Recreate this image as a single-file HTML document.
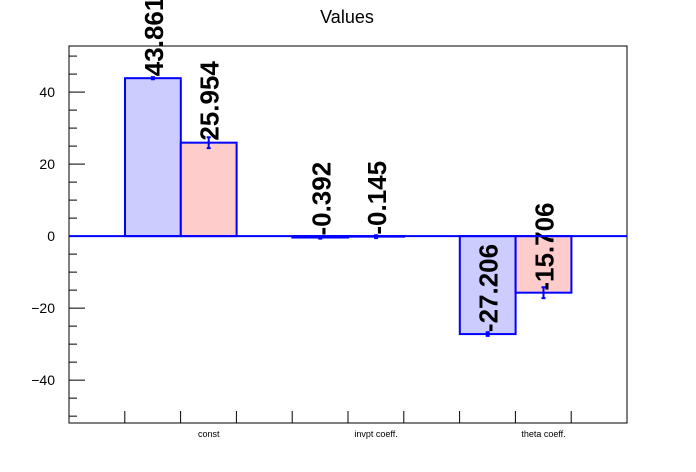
<!DOCTYPE html>
<html><head><meta charset="utf-8"><style>
html,body{margin:0;padding:0;background:#fff;}
svg{display:block;font-family:"Liberation Sans",sans-serif;}
</style></head><body>
<svg id="chart" width="696" height="472" viewBox="0 0 696 472" xmlns="http://www.w3.org/2000/svg">
<rect width="696" height="472" fill="#fff"/>
<text x="347" y="23" font-size="18" text-anchor="middle">Values</text>
<g id="plot"></g>
</svg>
<script>
const categories = ["const", "invpt coeff.", "theta coeff."];
const seriesA = [43.861, -0.392, -27.206];
const seriesB = [25.954, -0.145, -15.706];
const errA = [0.3, 0.3, 0.5];
const errB = [1.5, 0.4, 1.5];
const yTicks = [-40, -20, 0, 20, 40];
const labelsA = ["43.861", "-0.392", "-27.206"];
const labelsB = ["25.954", "-0.145", "-15.706"];

const X0 = 69, X1 = 627, Y0 = 46, Y1 = 423;
const yMin = -51.9, yMax = 52.8;
const NS = "http://www.w3.org/2000/svg";
const g = document.getElementById('plot');
function y(v){ return Y1 - (v - yMin) / (yMax - yMin) * (Y1 - Y0); }
const binW = 167.4, barW = 55.8, firstBar = 125;
function x(i, k){ return firstBar + i * binW + k * barW; }
function mk(tag, attrs, parent){
  const e = document.createElementNS(NS, tag);
  for (const k in attrs) e.setAttribute(k, attrs[k]);
  (parent || g).appendChild(e);
  return e;
}

const frame = mk('rect', {x:X0, y:Y0, width:X1-X0, height:Y1-Y0, fill:'none', stroke:'#000', 'stroke-width':1});



for (let v = -50; v <= 50; v += 5) {
  const major = v % 20 === 0;
  const t = mk('line', {x1:X0, x2:X0 + (major ? 16 : 8), y1:y(v), y2:y(v), stroke:'#000', 'stroke-width':1});
  
  
}
yTicks.forEach(v => {
  const t = mk('text', {x:X0 - 14, y:y(v) + 5, 'font-size':14, 'text-anchor':'end'});
  t.textContent = v < 0 ? '\u2212' + Math.abs(v) : String(v);
  
  
});
for (let k = 1; k < 10; k++) {
  const xx = X0 + k * (X1 - X0) / 10;
  const t = mk('line', {x1:xx, x2:xx, y1:Y1, y2:Y1 - 12, stroke:'#000', 'stroke-width':1});
  
  
}
categories.forEach((c, i) => {
  const t = mk('text', {x:x(i, 1.5), y:437, 'font-size':9, 'text-anchor':'middle'});
  t.textContent = c;
  
  
});

function drawSeries(vals, errs, labels, k0, fill, name){
  vals.forEach((v, i) => {
    const xa = x(i, k0), xb = x(i, k0 + 1);
    const top = Math.min(y(v), y(0)), h = Math.abs(y(v) - y(0));
    const r = mk('rect', {x:xa, y:top, width:xb - xa, height:Math.max(h, 0.5), fill:fill, stroke:'#0000ff', 'stroke-width':2});
    
    
    const cx = (xa + xb) / 2;
    const e = mk('path', {d:`M${cx},${y(v+errs[i])}V${y(v-errs[i])}M${cx-2},${y(v+errs[i])}H${cx+2}M${cx-2},${y(v-errs[i])}H${cx+2}`, stroke:'#0000ff', 'stroke-width':2, fill:'none'});
    
    
    const ty = y(v) - 2, tx = cx + 10;
    const t = mk('text', {x:tx, y:ty, 'font-size':26, 'font-weight':'bold', transform:`rotate(-90 ${tx} ${ty})`});
    t.textContent = labels[i];
    
    
  });
}
drawSeries(seriesA, errA, labelsA, 0, '#ccccff', 'series-a');
drawSeries(seriesB, errB, labelsB, 1, '#ffcccc', 'series-b');
const zl = mk('line', {x1:X0, x2:X1, y1:y(0), y2:y(0), stroke:'#0000ff', 'stroke-width':2});


</script>
</body></html>
